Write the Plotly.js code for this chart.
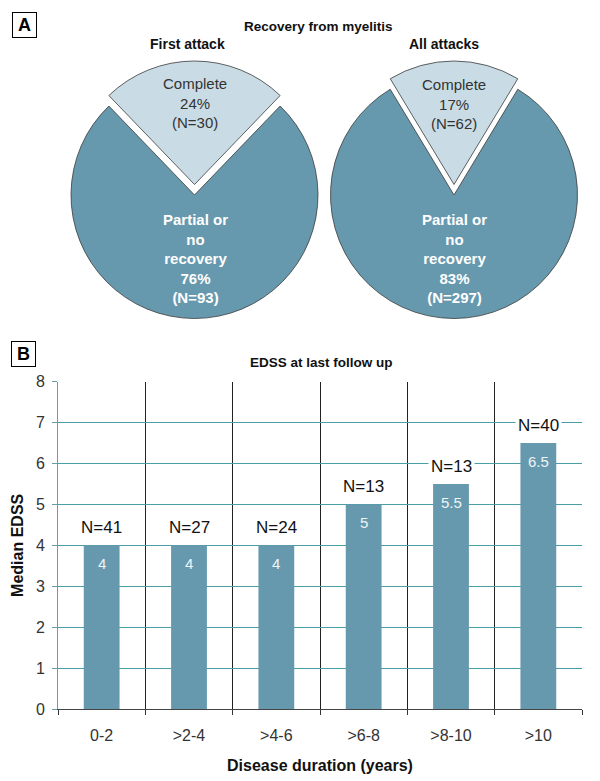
<!DOCTYPE html>
<html>
<head>
<meta charset="utf-8">
<script src="https://cdn.plot.ly/plotly-3.0.1.min.js"></script>
<style>
html,body{margin:0;padding:0;background:#fff;}
#chart{width:600px;height:781px;}
</style>
</head>
<body>
<div id="chart"></div>
<script>
// ---- Data ----
const pieLabels = ['Complete', 'Partial or no recovery'];
const firstAttackN = [30, 93];
const firstAttackPct = [24, 76];
const allAttacksN = [62, 297];
const allAttacksPct = [17, 83];

const durations = ['0-2', '>2-4', '>4-6', '>6-8', '>8-10', '>10'];
const medianEDSS = [4, 4, 4, 5, 5.5, 6.5];
const nPatients = [41, 27, 24, 13, 13, 40];
const yTicks = [0, 1, 2, 3, 4, 5, 6, 7, 8];

// ---- Styles ----
const W = 600, H = 781;
const FONT = 'Liberation Sans, Arial, sans-serif';
const mainCol = '#6699ae';
const compCol = '#c9dce5';
const barCol = '#6699ae';
const gridTeal = '#4a9ea6';
const PULL = 0.085;

function px(x){ return x / W; }
function py(y){ return 1 - y / H; }

function rot(vals){ const s = vals.reduce((a,b)=>a+b,0); return -360 * vals[0] / s / 2; }

function pieDomain(cx, cy, r){
  const half = r * (1 + PULL);
  return {x:[px(cx - half), px(cx + half)], y:[py(cy + half), py(cy - half)]};
}

const pie1 = {
  type:'pie', labels:pieLabels, values:firstAttackN, sort:false, direction:'clockwise',
  rotation: rot(firstAttackN), pull:[PULL, 0], textinfo:'none', hoverinfo:'label+value+percent',
  marker:{colors:[compCol, mainCol], line:{color:'#3a3a3a', width:0.8}},
  domain: pieDomain(194.5, 195, 123.5), showlegend:false
};
const pie2 = {
  type:'pie', labels:pieLabels, values:allAttacksN, sort:false, direction:'clockwise',
  rotation: rot(allAttacksN), pull:[PULL, 0], textinfo:'none', hoverinfo:'label+value+percent',
  marker:{colors:[compCol, mainCol], line:{color:'#3a3a3a', width:0.8}},
  domain: pieDomain(454, 195, 123.5), showlegend:false
};

const bars = {
  type:'bar', x:durations, y:medianEDSS, marker:{color:barCol, line:{width:0}},
  width:0.41, showlegend:false, hoverinfo:'x+y'
};

const annotations = [];
function addText(text, x, y, size, color, bold, extra){
  annotations.push(Object.assign({
    text: bold ? '<b>' + text + '</b>' : text,
    x: px(x), y: py(y), xref:'paper', yref:'paper', xanchor:'center', yanchor:'middle',
    showarrow:false, font:{family:FONT, size:size, color:color}
  }, extra || {}));
}

// Panel labels
addText('A', 24.5, 25, 18, '#000', true, {bordercolor:'#000', borderwidth:1, borderpad:1, width:21, height:22, bgcolor:'#fff'});
addText('B', 23, 354, 18, '#000', true, {bordercolor:'#000', borderwidth:1, borderpad:1, width:21, height:22, bgcolor:'#fff'});

// Panel A titles
addText('Recovery from myelitis', 318, 27, 13.5, '#111', true);
addText('First attack', 187, 44, 14, '#111', true);
addText('All attacks', 444, 44, 14, '#111', true);

// Pie slice labels
addText(pieLabels[0] + '<br>' + firstAttackPct[0] + '%<br>(N=' + firstAttackN[0] + ')', 195, 103, 15, '#333', false);
addText('Partial or<br>no<br>recovery<br>' + firstAttackPct[1] + '%<br>(N=' + firstAttackN[1] + ')', 195, 259, 15, '#ffffff', true);
addText(pieLabels[0] + '<br>' + allAttacksPct[0] + '%<br>(N=' + allAttacksN[0] + ')', 454, 104, 15, '#333', false);
addText('Partial or<br>no<br>recovery<br>' + allAttacksPct[1] + '%<br>(N=' + allAttacksN[1] + ')', 454, 258, 15, '#ffffff', true);

// Panel B title
addText('EDSS at last follow up', 321, 362, 13.5, '#111', true);

// Bar annotations
durations.forEach((d, i) => {
  annotations.push({
    text:'N=' + nPatients[i], x:d, y:medianEDSS[i], xref:'x', yref:'y',
    xanchor:'center', yanchor:'bottom', yshift:5, showarrow:false,
    font:{family:FONT, size:17, color:'#111'}, bgcolor:'#ffffff', borderpad:2
  });
  annotations.push({
    text:String(medianEDSS[i]), x:d, y:medianEDSS[i], xref:'x', yref:'y',
    xanchor:'center', yanchor:'top', yshift:-9, showarrow:false,
    font:{family:FONT, size:15, color:'#eef4f7'}, borderpad:0
  });
});

const layout = {
  width:W, height:H, margin:{l:0, r:0, t:0, b:0},
  paper_bgcolor:'#fff', plot_bgcolor:'#fff',
  font:{family:FONT, color:'#333'},
  bargap:0.59,
  xaxis:{
    domain:[px(58), px(582)], type:'category', tickson:'boundaries',
    showgrid:true, gridcolor:'#222', gridwidth:1,
    ticks:'outside', ticklen:5, tickcolor:'#333',
    showline:true, linecolor:'#444', linewidth:1,
    ticklabelstandoff:12,
    tickfont:{family:FONT, size:16, color:'#333'},
    title:{text:'<b>Disease duration (years)</b>', font:{family:FONT, size:16, color:'#111'}, standoff:16},
    fixedrange:true
  },
  yaxis:{
    domain:[py(709), py(381.7)], range:[0, 8], tickvals:yTicks,
    showgrid:true, gridcolor:gridTeal, gridwidth:1, zeroline:false,
    ticks:'outside', ticklen:5, tickcolor:'#6a9ea6',
    showline:true, linecolor:'#6a9ea6', linewidth:1,
    ticklabelstandoff:4,
    tickfont:{family:FONT, size:16, color:'#333'},
    title:{text:'<b>Median EDSS</b>', font:{family:FONT, size:16, color:'#111'}, standoff:8},
    fixedrange:true
  },
  annotations:annotations
};

Plotly.newPlot('chart', [pie1, pie2, bars], layout, {displayModeBar:false, staticPlot:true});
</script>
</body>
</html>
